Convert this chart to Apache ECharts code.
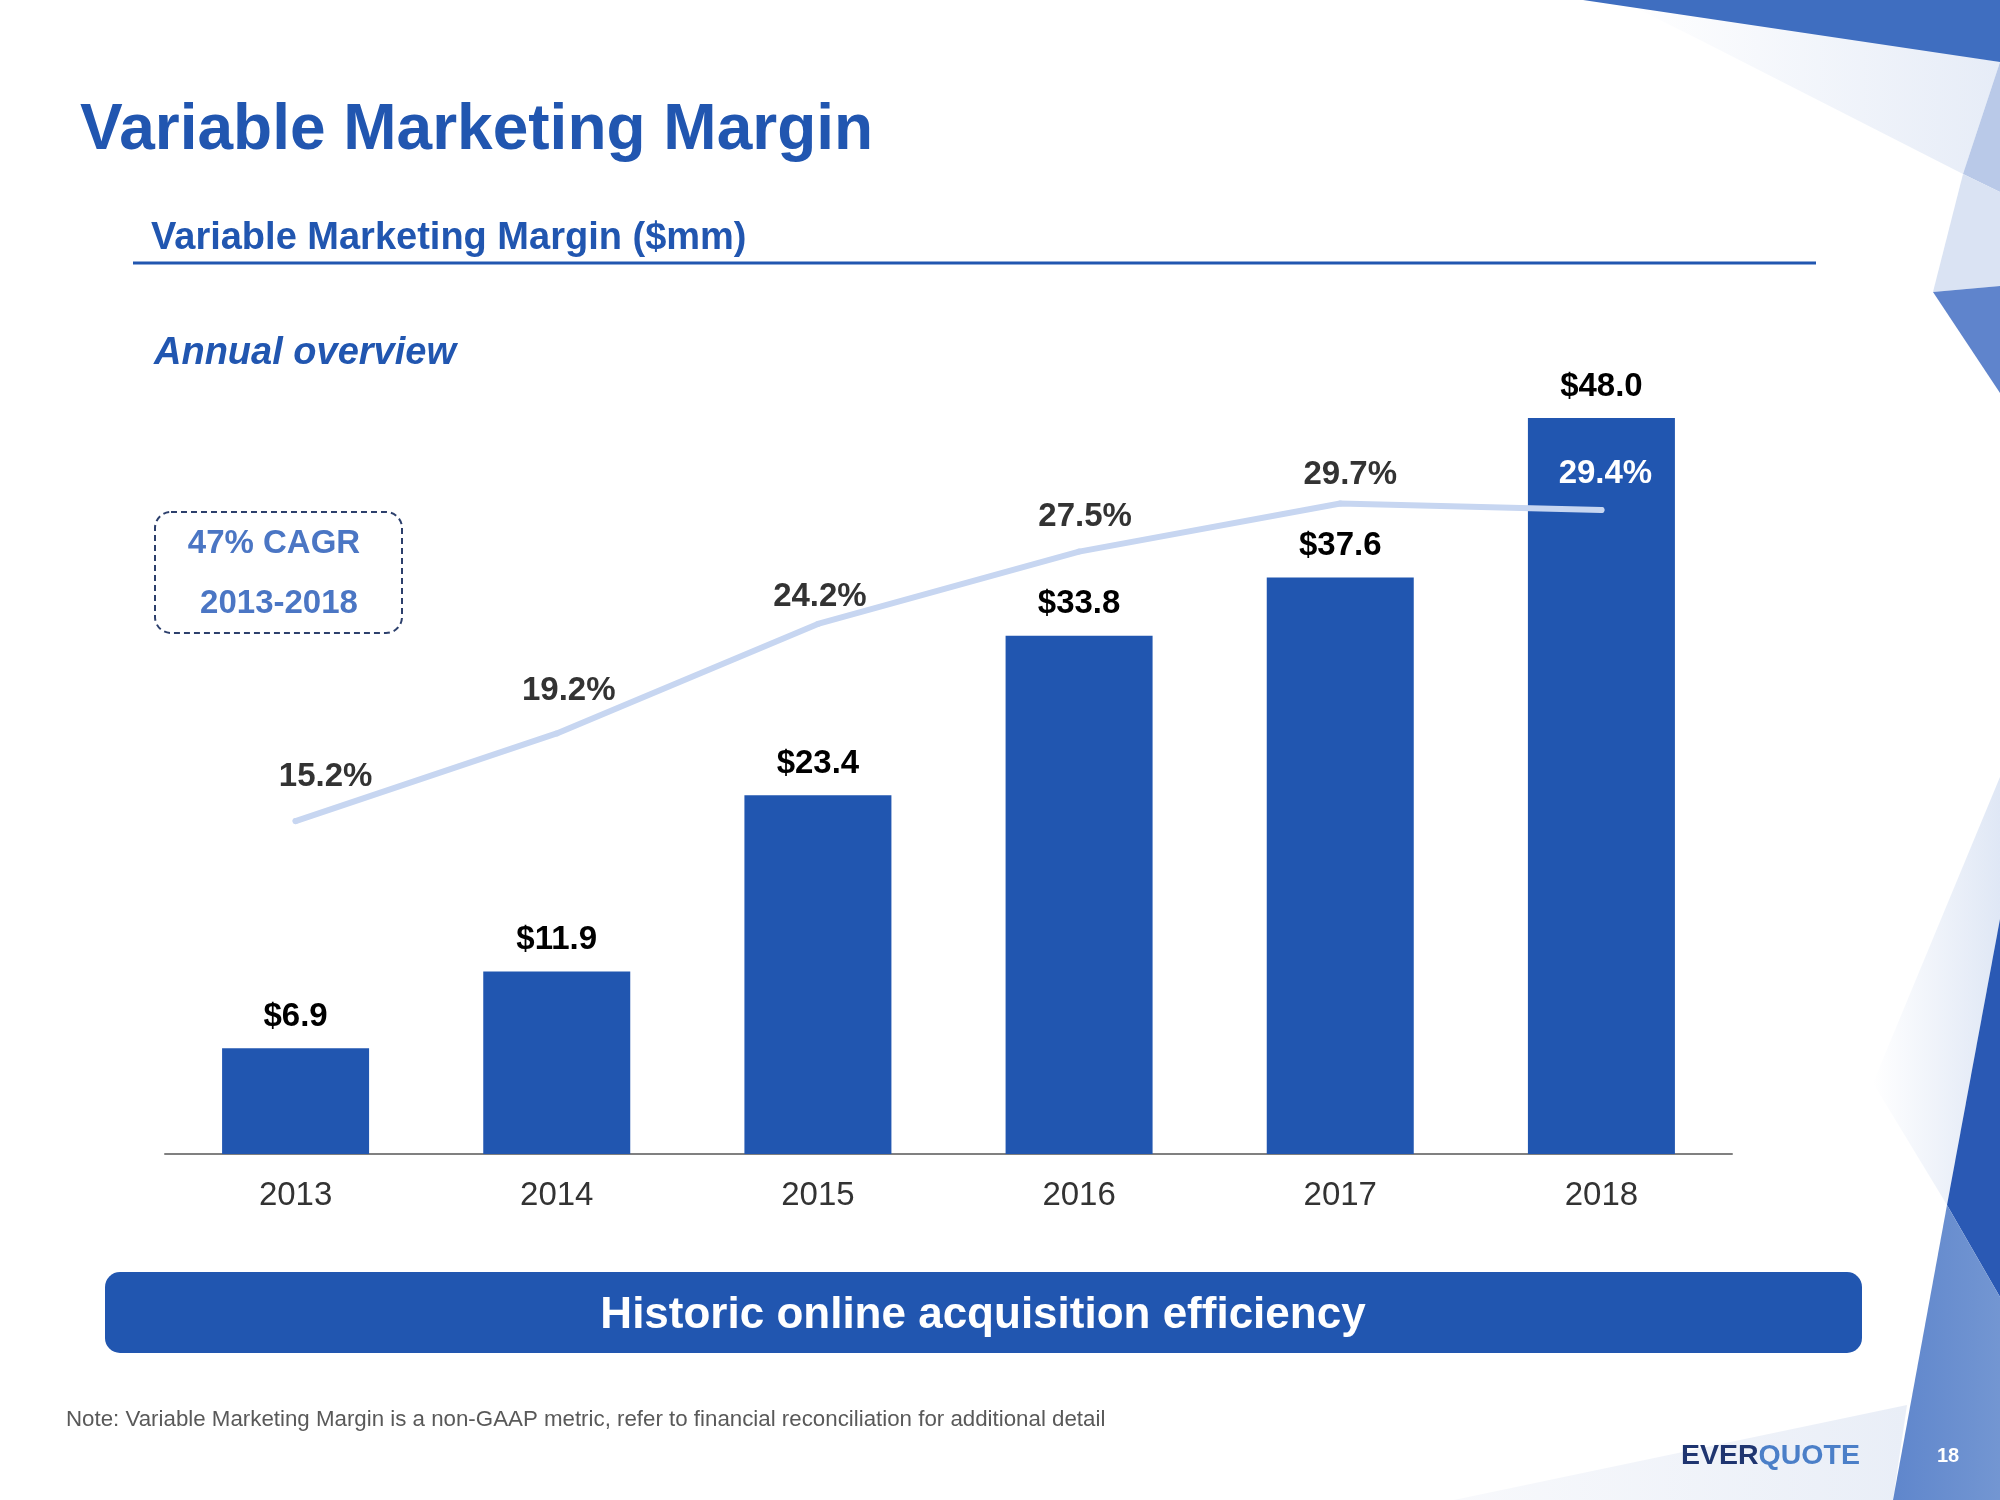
<!DOCTYPE html>
<html>
<head>
<meta charset="utf-8">
<script src="https://cdn.jsdelivr.net/npm/echarts@6/dist/echarts.min.js"></script>
<style>
html,body{margin:0;padding:0;background:#fff;}
#chart{width:2000px;height:1500px;}
</style>
</head>
<body>
<div id="chart"></div>
<script>
// ---- data ----
const years = ['2013', '2014', '2015', '2016', '2017', '2018'];
const vmmValues = [6.9, 11.9, 23.4, 33.8, 37.6, 48.0];      // $mm
const marginPct = [15.2, 19.2, 24.2, 27.5, 29.7, 29.4];     // %
const titleText = 'Variable Marketing Margin';
const subtitleText = 'Variable Marketing Margin ($mm)';
const sectionText = 'Annual overview';
const cagrLines = ['47% CAGR', '2013-2018'];
const bannerText = 'Historic online acquisition efficiency';
const noteText = 'Note: Variable Marketing Margin is a non-GAAP metric, refer to financial reconciliation for additional detail';

const FONT = '"Liberation Sans", Arial, sans-serif';
const BLUE = '#2156b0';

const chart = echarts.init(document.getElementById('chart'), null, {renderer: 'canvas'});

// per-label nudges (layout only)
const pctOffsets = [[30, -10], [12, -8], [2, 8], [6, 0], [10, 6], [4, -2]];

const lineData = marginPct.map((v, i) => ({
  value: v,
  label: {
    offset: pctOffsets[i],
    color: i === years.length - 1 ? '#ffffff' : '#333333'
  }
}));

const option = {
  backgroundColor: '#ffffff',
  animation: false,
  grid: {left: 165, right: 268, top: 234, bottom: 346, containLabel: false},
  xAxis: {
    type: 'category',
    data: years,
    axisLine: {show: true, lineStyle: {color: '#808080', width: 2}},
    axisTick: {show: false},
    axisLabel: {color: '#333333', fontFamily: FONT, fontSize: 33, margin: 25}
  },
  yAxis: [
    {type: 'value', min: 0, max: 60, show: false, splitLine: {show: false}},
    {type: 'value', min: 0, max: 42, show: false, splitLine: {show: false}}
  ],
  series: [
    {
      type: 'bar',
      data: vmmValues,
      barWidth: 147,
      itemStyle: {color: BLUE},
      label: {
        show: true,
        position: 'top',
        distance: 15,
        formatter: p => '$' + p.value.toFixed(1),
        color: '#000000',
        fontFamily: FONT,
        fontWeight: 'bold',
        fontSize: 33
      },
      z: 2
    },
    {
      type: 'line',
      yAxisIndex: 1,
      data: lineData,
      symbol: 'circle',
      symbolSize: 6,
      itemStyle: {color: '#c7d6f1'},
      lineStyle: {color: '#c7d6f1', width: 6, cap: 'round', join: 'round'},
      label: {
        show: true,
        position: 'top',
        distance: 15,
        formatter: p => p.value.toFixed(1) + '%',
        fontFamily: FONT,
        fontWeight: 'bold',
        fontSize: 33
      },
      z: 3
    }
  ],
  graphic: [
    // decorative shapes (right side)
    {type: 'polygon', z: -10, shape: {points: [[1620, 0], [2000, 62], [1963, 174], [1700, 40]]},
     style: {fill: new echarts.graphic.LinearGradient(0, 0, 1, 0, [{offset: 0, color: '#ffffff'}, {offset: 1, color: '#e6ecf7'}])}},
    {type: 'polygon', z: -9, shape: {points: [[1583, 0], [2000, 0], [2000, 62]]}, style: {fill: '#3f6ec0'}},
    {type: 'polygon', z: -9, shape: {points: [[2000, 62], [1963, 174], [2000, 192]]}, style: {fill: '#b9c9e8'}},
    {type: 'polygon', z: -9, shape: {points: [[1963, 174], [2000, 192], [2000, 286], [1933, 292]]}, style: {fill: '#dae3f3'}},
    {type: 'polygon', z: -9, shape: {points: [[1933, 292], [2000, 286], [2000, 393]]}, style: {fill: '#5f84cc'}},
    {type: 'polygon', z: -10, shape: {points: [[2000, 777], [1873, 1083], [1947, 1205], [2000, 919]]},
     style: {fill: new echarts.graphic.LinearGradient(0, 0, 1, 0, [{offset: 0, color: '#ffffff'}, {offset: 1, color: '#dfe7f5'}])}},
    {type: 'polygon', z: -9, shape: {points: [[2000, 919], [1947, 1205], [2000, 1297]]}, style: {fill: '#2a59b4'}},
    {type: 'polygon', z: -9, shape: {points: [[1947, 1205], [2000, 1297], [2000, 1500], [1893, 1500]]},
     style: {fill: new echarts.graphic.LinearGradient(0, 0, 1, 0, [{offset: 0, color: '#5f86cc'}, {offset: 1, color: '#7396d2'}])}},
    {type: 'polygon', z: -10, shape: {points: [[1454, 1500], [1907, 1405], [1893, 1500]]},
     style: {fill: new echarts.graphic.LinearGradient(0, 0, 1, 0, [{offset: 0, color: '#f8f9fc'}, {offset: 1, color: '#e9eef7'}])}},

    // titles
    {type: 'text', left: 80, top: 99, style: {text: titleText, font: 'bold 64px ' + FONT, fill: BLUE}},
    {type: 'text', left: 151, top: 220, style: {text: subtitleText, font: 'bold 38px ' + FONT, fill: BLUE}},
    {type: 'line', shape: {x1: 133, y1: 263, x2: 1816, y2: 263}, style: {stroke: BLUE, lineWidth: 3}},
    {type: 'text', left: 154, top: 335, style: {text: sectionText, font: 'italic bold 38px ' + FONT, fill: BLUE}},

    // CAGR box
    {type: 'rect', shape: {x: 155, y: 512, width: 247, height: 121, r: 16},
     style: {fill: 'none', stroke: '#2c3f6c', lineWidth: 2, lineDash: [6, 4]}},
    {type: 'text', x: 274, y: 544, style: {text: cagrLines[0], font: 'bold 33px ' + FONT, fill: '#4b76c4', align: 'center', verticalAlign: 'middle'}},
    {type: 'text', x: 279, y: 604, style: {text: cagrLines[1], font: 'bold 33px ' + FONT, fill: '#4b76c4', align: 'center', verticalAlign: 'middle'}},

    // banner
    {type: 'rect', shape: {x: 105, y: 1272, width: 1757, height: 81, r: 15}, style: {fill: BLUE}},
    {type: 'text', x: 983, y: 1316, style: {text: bannerText, font: 'bold 44px ' + FONT, fill: '#ffffff', align: 'center', verticalAlign: 'middle'}},

    // note
    {type: 'text', x: 66, y: 1420, style: {text: noteText, font: '22.3px ' + FONT, fill: '#595959', verticalAlign: 'middle'}},

    // logo and page number
    {type: 'text', x: 1681, y: 1456, style: {
      text: '{a|EVER}{b|QUOTE}', verticalAlign: 'middle',
      rich: {
        a: {font: 'bold 28.5px ' + FONT, fill: '#1f3570'},
        b: {font: 'bold 28.5px ' + FONT, fill: '#4b7fc8'}
      }
    }},
    {type: 'text', x: 1948, y: 1456, style: {text: '18', font: 'bold 20px ' + FONT, fill: '#ffffff', align: 'center', verticalAlign: 'middle'}}
  ]
};

chart.setOption(option);
</script>
</body>
</html>
